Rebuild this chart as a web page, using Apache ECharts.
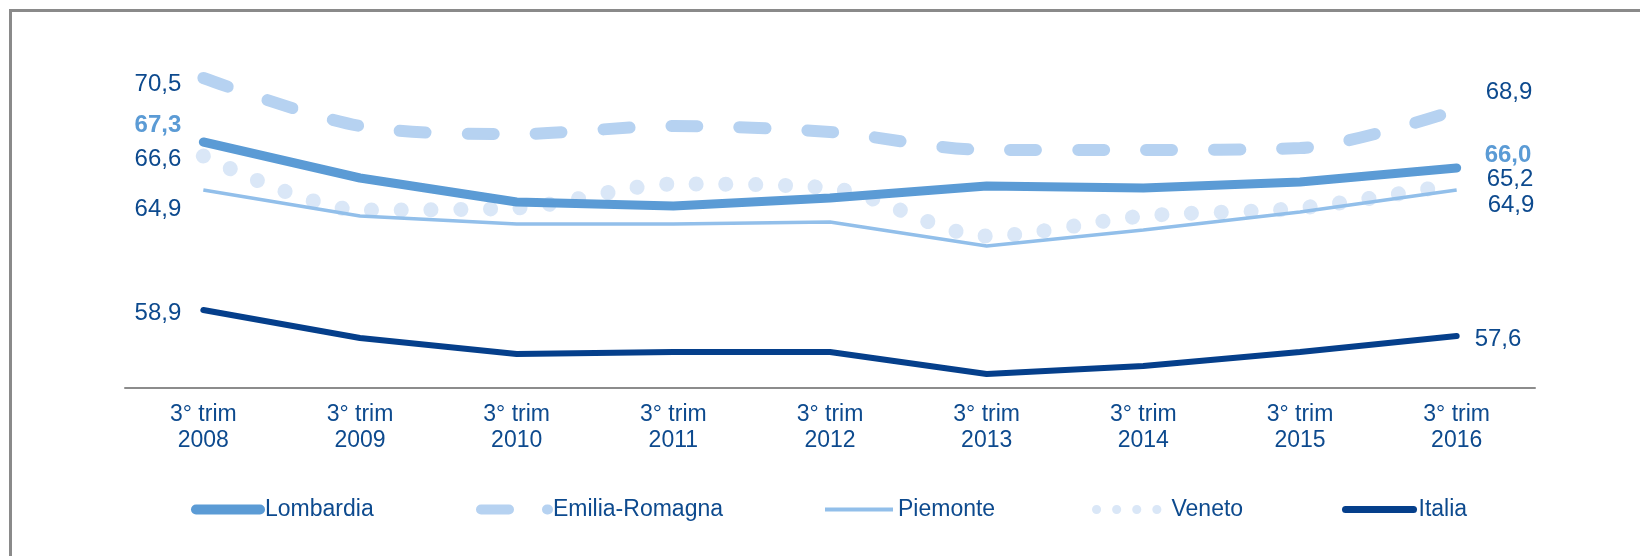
<!DOCTYPE html>
<html>
<head>
<meta charset="utf-8">
<script src="https://cdn.jsdelivr.net/npm/echarts@6/dist/echarts.min.js"></script>
<style>
  html, body { margin: 0; padding: 0; background: #ffffff; }
  #chart { width: 1640px; height: 556px; }
</style>
</head>
<body>
<div id="chart"></div>
<script>
// ---- data ----
const categories = ['3° trim\n2008', '3° trim\n2009', '3° trim\n2010', '3° trim\n2011', '3° trim\n2012',
                    '3° trim\n2013', '3° trim\n2014', '3° trim\n2015', '3° trim\n2016'];
const lombardia     = [67.3, 65.5, 64.3, 64.1, 64.5, 65.1, 65.0, 65.3, 66.0];
const emiliaRomagna = [70.5, 68.1, 67.7, 68.1, 67.8, 66.9, 66.9, 67.0, 68.9];
const piemonte      = [64.9, 63.6, 63.2, 63.2, 63.3, 62.1, 62.9, 63.8, 64.9];
const veneto        = [66.6, 63.9, 64.0, 65.2, 65.0, 62.6, 63.6, 64.0, 65.2];
const italia        = [58.9, 57.5, 56.7, 56.8, 56.8, 55.7, 56.1, 56.8, 57.6];
const seriesNames   = ['Lombardia', 'Emilia-Romagna', 'Piemonte', 'Veneto', 'Italia'];

// ---- styling ----
const NAVY = '#0d4a8e';
const FONT = '"Liberation Sans", Arial, sans-serif';
const fmt = v => v.toFixed(1).replace('.', ',');

function withEndLabels(values, color, bold, leftOffset, rightOffset, rightDist) {
  return values.map((v, i) => {
    if (i === 0) {
      return { value: v, label: { show: true, position: 'left', distance: 22, offset: leftOffset,
        color: color, fontWeight: bold ? 'bold' : 'normal' } };
    }
    if (i === values.length - 1) {
      return { value: v, label: { show: true, position: 'right', distance: rightDist, offset: rightOffset,
        color: color, fontWeight: bold ? 'bold' : 'normal' } };
    }
    return v;
  });
}

function lineSeries(name, values, lineStyle, smooth, labelCfg) {
  return {
    name: name,
    type: 'line',
    symbol: 'circle',
    symbolSize: 0,
    showSymbol: true,
    smooth: smooth,
    lineStyle: lineStyle,
    itemStyle: { color: lineStyle.color },
    label: { show: false, fontSize: 24, fontFamily: FONT, formatter: p => fmt(p.value) },
    emphasis: { disabled: true },
    data: withEndLabels(values, labelCfg.color, labelCfg.bold, labelCfg.left, labelCfg.right, labelCfg.dist)
  };
}

const C_LOMB = '#5b9bd5', C_ER = '#b6d2f1', C_PIE = '#92bfea', C_VEN = '#dae7f7', C_ITA = '#053f8b';

const series = [
  lineSeries('Veneto', veneto, { color: C_VEN, width: 15, type: [0.1, 29.6], cap: 'round' }, 0.3,
    { color: NAVY, bold: false, left: [0, 3], right: [0, -5], dist: 30 }),
  lineSeries('Piemonte', piemonte, { color: C_PIE, width: 3.5 }, false,
    { color: NAVY, bold: false, left: [0, 19], right: [0, 15], dist: 31 }),
  lineSeries('Emilia-Romagna', emiliaRomagna, { color: C_ER, width: 12, type: [26, 42], cap: 'round' }, 0.3,
    { color: NAVY, bold: false, left: [0, 6], right: [0, -18], dist: 29 }),
  lineSeries('Lombardia', lombardia, { color: C_LOMB, width: 9, cap: 'round' }, false,
    { color: C_LOMB, bold: true, left: [0, -17], right: [0, -13], dist: 28 }),
  lineSeries('Italia', italia, { color: C_ITA, width: 6, cap: 'round' }, false,
    { color: NAVY, bold: false, left: [0, 3], right: [0, 3], dist: 18 })
];

function legendFor(name, left, itemWidth, lineStyle) {
  return {
    data: [{ name: name, itemStyle: { opacity: 0 }, lineStyle: lineStyle }],
    left: left,
    top: 498,
    itemWidth: itemWidth,
    itemHeight: 20,
    itemGap: 0,
    padding: 0,
    selectedMode: false,
    textStyle: { color: NAVY, fontSize: 23, fontFamily: FONT, padding: [0, 0, 0, 0] }
  };
}

const option = {
  animation: false,
  backgroundColor: '#ffffff',
  textStyle: { fontFamily: FONT },
  graphic: [{
    type: 'rect',
    shape: { x: 10.5, y: 10.5, width: 1700, height: 700 },
    style: { fill: 'none', stroke: '#8a8a8a', lineWidth: 3 },
    silent: true
  }],
  grid: { left: 125, right: 105, top: 48, bottom: 168, containLabel: false },
  legend: [
    legendFor('Lombardia', 191, 64, { width: 10, cap: 'round', color: C_LOMB }),
    legendFor('Emilia-Romagna', 476, 67, { width: 10, cap: 'round', type: [28, 38], color: C_ER }),
    legendFor('Piemonte', 823, 68, { width: 4, color: C_PIE }),
    legendFor('Veneto', 1092, 70, { width: 9, cap: 'round', type: [0.1, 20], color: C_VEN }),
    legendFor('Italia', 1342, 68, { width: 7, cap: 'round', color: C_ITA })
  ],
  xAxis: {
    type: 'category',
    data: categories,
    boundaryGap: true,
    axisLine: { lineStyle: { color: '#8c8c8c', width: 2 } },
    axisTick: { show: false },
    axisLabel: { color: NAVY, fontSize: 23, lineHeight: 26, margin: 14, fontFamily: FONT, interval: 0 }
  },
  yAxis: {
    type: 'value',
    min: 55,
    max: 72,
    show: false,
    splitLine: { show: false }
  },
  series: series
};

const chart = echarts.init(document.getElementById('chart'), null, { renderer: 'canvas' });
chart.setOption(option);
</script>
</body>
</html>
